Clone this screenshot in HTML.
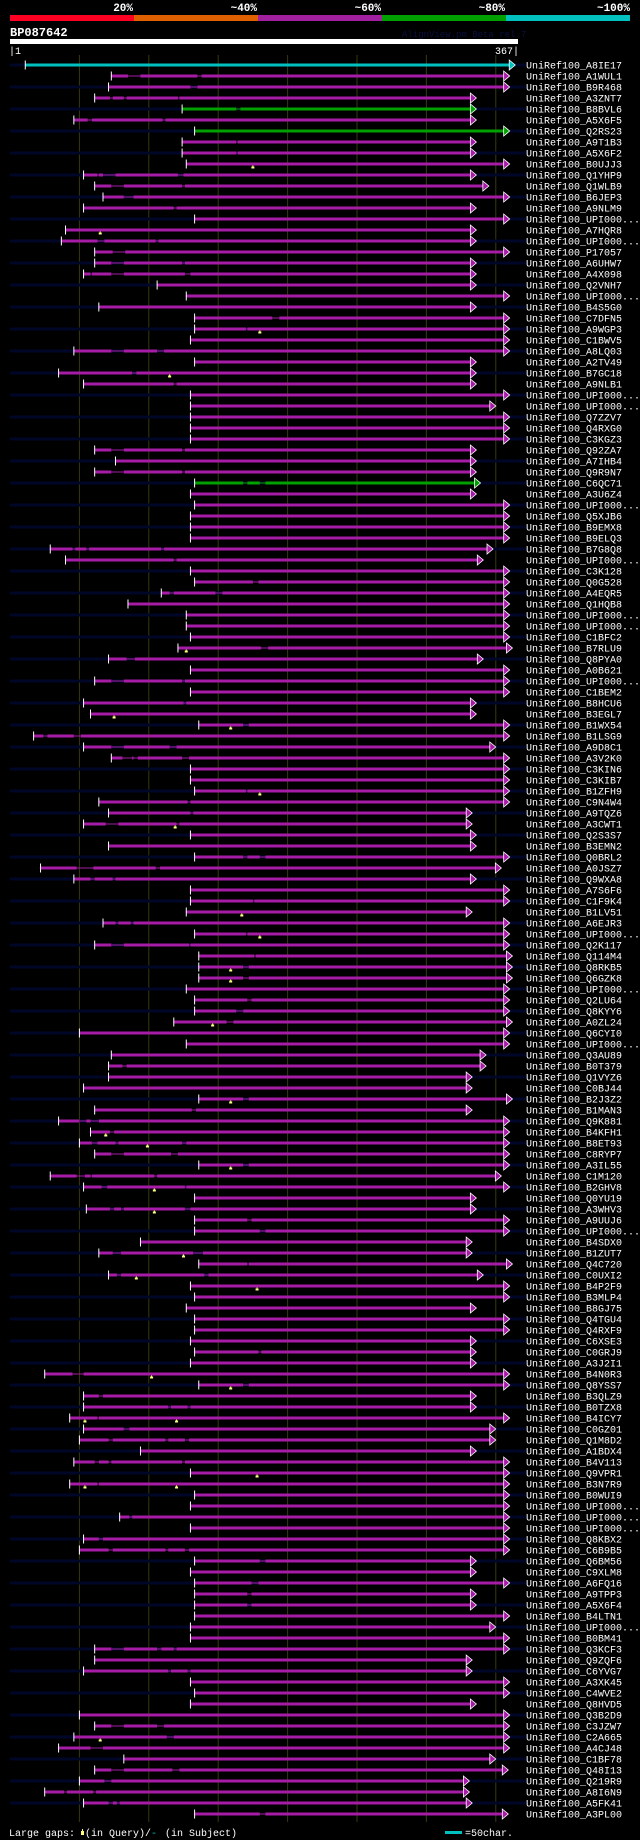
<!DOCTYPE html>
<html><head><meta charset="utf-8">
<style>
html,body{margin:0;padding:0;background:#000;}
body{width:640px;height:1840px;overflow:hidden;position:relative;font-family:"Liberation Mono",monospace;}
svg{position:absolute;left:0;top:0;}
</style></head>
<body>
<svg id="chart" width="640" height="1840" xmlns="http://www.w3.org/2000/svg" font-family="Liberation Mono, monospace">
  <g>
    <rect x="10" y="15" width="124" height="6" fill="#ff0022"/>
    <rect x="134" y="15" width="124" height="6" fill="#e06000"/>
    <rect x="258" y="15" width="124" height="6" fill="#a020a0"/>
    <rect x="382" y="15" width="124" height="6" fill="#00a000"/>
    <rect x="506" y="15" width="124" height="6" fill="#00c0c0"/>
    <g fill="#fff" font-size="11" font-weight="bold" text-anchor="end">
      <text x="133" y="11">20%</text>
      <text x="257" y="11">~40%</text>
      <text x="381" y="11">~60%</text>
      <text x="505" y="11">~80%</text>
      <text x="630" y="11">~100%</text>
    </g>
  </g>
  <text x="10" y="36" fill="#fff" font-size="12" font-weight="bold">BP087642</text>
  <text x="402" y="37" fill="#0a1040" font-size="9">AlignView.pm Beta rel.7</text>
  <rect x="10" y="39" width="508" height="5" fill="#fff"/>
  <text x="9" y="54" fill="#fff" font-size="10">|1</text>
  <text x="519" y="54" fill="#fff" font-size="10" text-anchor="end">367|</text>
  <g id="grid"></g>
  <g id="rows"></g>
  <g>
    <text x="9" y="1836" fill="#fff" font-size="10">Large gaps:</text>
    <rect x="81" y="1831" width="3" height="4" fill="#ffff80"/>
    <rect x="82" y="1829" width="1" height="2" fill="#ffff80"/>
    <text x="85" y="1836" fill="#fff" font-size="10">(in Query)/</text>
    <text x="151" y="1836" fill="#00c0c0" font-size="10">-</text>
    <text x="165" y="1836" fill="#fff" font-size="10">(in Subject)</text>
    <rect x="445" y="1831" width="17" height="3" fill="#00c0c0"/>
    <text x="465" y="1836" fill="#fff" font-size="10">=50char.</text>
  </g>
</svg>
<script>
const names=["A8IE17","A1WUL1","B9R468","A3ZNT7","B8BVL6","A5X6F5","Q2RS23","A9T1B3","A5X6F2","B0UJJ3","Q1YHP9","Q1WLB9","B6JEP3","A9NLM9","UPI000...","A7HQR8","UPI000...","P17057","A6UHW7","A4X098","Q2VNH7","UPI000...","B4S5G0","C7DFN5","A9WGP3","C1BWV5","A8LQ03","A2TV49","B7GC18","A9NLB1","UPI000...","UPI000...","Q7ZZV7","Q4RXG0","C3KGZ3","Q92ZA7","A7IHB4","Q9R9N7","C6QC71","A3U6Z4","UPI000...","Q5XJB6","B9EMX8","B9ELQ3","B7G8Q8","UPI000...","C3K128","Q0G528","A4EQR5","Q1HQB8","UPI000...","UPI000...","C1BFC2","B7RLU9","Q8PYA0","A0B621","UPI000...","C1BEM2","B8HCU6","B3EGL7","B1WX54","B1LSG9","A9D8C1","A3V2K0","C3KIN6","C3KIB7","B1ZFH9","C9N4W4","A9TQZ6","A3CWT1","Q2S3S7","B3EMN2","Q0BRL2","A0JSZ7","Q9WXA8","A7S6F6","C1F9K4","B1LV51","A6EJR3","UPI000...","Q2K117","Q114M4","Q8RKB5","Q6GZK8","UPI000...","Q2LU64","Q8KYY6","A0ZL24","Q6CYI0","UPI000...","Q3AU89","B0T379","Q1VYZ6","C0BJ44","B2J3Z2","B1MAN3","Q9K881","B4KFH1","B8ET93","C8RYP7","A3IL55","C1M120","B2GHV8","Q0YU19","A3WHV3","A9UUJ6","UPI000...","B4SDX0","B1ZUT7","Q4C720","C0UXI2","B4P2F9","B3MLP4","B8GJ75","Q4TGU4","Q4RXF9","C6XSE3","C0GRJ9","A3J2I1","B4N0R3","Q8YSS7","B3QLZ9","B0TZX8","B4ICY7","C0GZ01","Q1M8D2","A1BDX4","B4V113","Q9VPR1","B3N7R9","B0WUI9","UPI000...","UPI000...","UPI000...","Q8KBX2","C6B9B5","Q6BM56","C9XLM8","A6FQ16","A9TPP3","A5X6F4","B4LTN1","UPI000...","B0BM41","Q3KCF3","Q9ZQF6","C6YVG7","A3XK45","C4WVE2","Q8HVD5","Q3B2D9","C3JZW7","C2A665","A4CJ48","C1BF78","Q48I13","Q219R9","A8I6N9","A5FK41","A3PL00"];
const starts=[12,74,72,62,125,47,134,125,125,128,54,62,68,54,134,41,38,62,62,54,107,128,65,134,134,131,47,134,36,54,131,131,131,131,131,62,77,62,134,131,134,131,131,131,30,41,131,134,110,86,128,128,131,122,72,131,62,131,54,59,137,18,54,74,131,131,134,65,72,54,131,72,134,23,47,131,131,128,68,134,62,137,137,137,128,134,134,119,51,128,74,72,72,54,137,62,36,59,51,62,137,30,54,134,56,134,134,95,65,137,72,131,134,128,134,134,131,134,131,26,137,54,54,44,54,51,95,47,131,44,134,131,80,131,54,51,134,131,134,134,134,134,131,131,62,62,54,131,134,131,51,62,47,36,83,62,51,26,54,134];
const ends=[365,361,361,337,337,337,361,337,337,361,337,346,361,337,361,337,337,361,337,337,337,361,337,361,361,361,361,337,337,337,361,351,361,361,361,337,337,337,340,337,361,361,361,361,349,342,361,361,361,361,361,361,361,363,342,361,361,361,337,337,361,361,351,361,361,361,361,361,334,334,337,337,361,355,337,361,361,334,361,361,361,363,363,363,361,361,361,363,361,361,344,344,334,334,363,334,361,361,361,361,361,355,361,337,337,361,361,334,334,363,342,361,361,337,361,361,337,337,337,361,361,337,337,361,351,351,337,361,361,361,361,361,361,361,361,361,337,337,361,337,337,361,351,361,361,334,334,361,361,337,361,361,361,361,351,360,332,332,334,360];
// identity class per row: 0 = ~60% (purple), 1 = ~80% (green), 2 = ~100% (cyan)
const identity=[2,0,0,0,1,0,1,0,0,0,0,0,0,0,0,0,0,0,0,0,0,0,0,0,0,0,0,0,0,0,0,0,0,0,0,0,0,0,1].concat(new Array(121).fill(0));
const gaps={2:[[86,95],[136,139]],3:[[131,136]],4:[[73,75],[83,85],[122,123]],5:[[164,167]],6:[[57,60],[111,113]],8:[[164,165]],9:[[164,165]],11:[[64,65],[68,77],[122,126]],12:[[74,83],[125,127]],13:[[83,90]],14:[[119,121]],17:[[64,69],[106,108]],18:[[75,84]],19:[[74,83],[125,127]],20:[[59,60],[74,83],[127,131]],24:[[190,195]],25:[[171,172]],27:[[74,83],[107,112]],29:[[89,92]],30:[[119,121]],36:[[74,83],[125,127]],38:[[74,83],[125,127]],39:[[169,172],[181,185]],45:[[46,48],[56,58],[110,112]],46:[[119,121]],48:[[176,180]],49:[[116,119],[149,154]],54:[[182,187]],55:[[85,91]],57:[[74,83],[125,127]],59:[[126,128]],61:[[169,173]],62:[[25,28],[47,52]],63:[[74,83],[116,121]],64:[[82,89],[90,93],[125,130]],67:[[171,172]],68:[[129,131]],69:[[131,133]],70:[[70,79],[121,123]],73:[[169,172],[181,185]],74:[[49,61],[106,109]],75:[[59,62],[75,77]],77:[[176,177]],79:[[77,79],[88,90]],80:[[171,172]],81:[[74,83],[130,131]],82:[[177,178]],83:[[169,173]],84:[[169,173]],86:[[172,175]],87:[[164,169]],88:[[157,162]],92:[[82,85]],95:[[169,173]],96:[[132,135]],97:[[51,56],[59,65]],98:[[73,76]],99:[[60,64],[77,79],[125,128]],100:[[74,83],[117,122]],101:[[169,173]],102:[[49,55],[59,60],[105,107]],103:[[67,71],[127,128]],105:[[73,76],[81,83],[127,131]],106:[[172,175]],107:[[181,185]],109:[[75,81],[133,140]],110:[[172,173]],111:[[78,81],[141,144]],118:[[180,182]],120:[[46,54]],121:[[169,173]],122:[[65,68]],123:[[115,117],[129,131]],124:[[64,65]],125:[[83,87]],126:[[72,75],[113,115],[127,130]],128:[[62,65],[72,74],[125,127]],130:[[64,65]],133:[[87,89]],135:[[65,68]],136:[[72,75],[113,115],[127,130]],137:[[181,185]],139:[[175,180]],140:[[172,175]],141:[[172,175]],145:[[74,83],[107,110],[119,121]],147:[[115,117],[129,131]],152:[[74,83],[107,112]],153:[[114,119]],154:[[59,68]],156:[[74,83],[118,123]],157:[[69,74]],158:[[40,42],[61,63]],159:[[72,75],[78,80]],160:[[181,185]]};
const queryGaps={10:[176],16:[66],25:[181],29:[116],54:[128],60:[76],61:[160],67:[181],70:[120],78:[168],80:[181],83:[160],84:[160],88:[147],95:[160],98:[70],99:[100],101:[160],103:[105],105:[105],109:[126],111:[92],112:[179],120:[103],121:[160],124:[55,121],129:[179],130:[55,121],153:[66]};
const gridTicks=[51,101,151,201,251,301,351];

const QLEN=367, X0=10, X1=518, ROW0=65, PITCH=11;
const colors=["#a61ca6","#00a000","#00c0c0"];
function xs(p){return X0+(p-1)*(X1-X0)/(QLEN-1);}
function ys(i){return ROW0+i*PITCH;}
const NS="http://www.w3.org/2000/svg";
function mk(tag,attrs,parent){const e=document.createElementNS(NS,tag);for(const k in attrs)e.setAttribute(k,attrs[k]);parent.appendChild(e);return e;}

const grid=document.getElementById('grid');
gridTicks.forEach(t=>{
  const l=mk('line',{x1:xs(t),x2:xs(t),y1:55,y2:1822,stroke:'#38380e','stroke-width':1},grid);
  
  
});

const rows=document.getElementById('rows');
names.forEach((nm,i)=>{
  const y=ys(i);
  const g=mk('g',{},rows);
  
  
  if(i%2===0){
    const bg=mk('rect',{x:10,y:y-1.5,width:516,height:3,fill:'#000628'},g);
    
    
  }
  const c=colors[identity[i]];
  const sx=xs(starts[i]), tip=xs(ends[i]), ex=tip-6;
  const gl=gaps[i+1]||[];
  let cur=sx;
  const segs=[];
  gl.forEach(gp=>{segs.push([cur,xs(gp[0])]);cur=xs(gp[1]);});
  segs.push([cur,ex]);
  segs.forEach(s=>{
    const r=mk('rect',{x:s[0],y:y-1.5,width:Math.max(0,s[1]-s[0]),height:3,fill:c},g);
    
    
  });
  gl.forEach(gp=>{
    const r=mk('rect',{x:xs(gp[0]),y:y-0.5,width:xs(gp[1])-xs(gp[0]),height:1,fill:c},g);
    
    
  });
  const a=mk('polygon',{points:`${ex},${y-5} ${tip},${y} ${ex},${y+5}`,fill:c,stroke:'#fff','stroke-width':0.8},g);
  
  
  const t=mk('rect',{x:sx-0.5,y:y-4.5,width:1,height:9,fill:'#fff'},g);
  
  
  (queryGaps[i+1]||[]).forEach(p=>{
    const m=mk('rect',{x:xs(p)-1.5,y:y+2.5,width:3,height:2,fill:'#ffff80'},g);
    
    
    const st=mk('rect',{x:xs(p)-0.5,y:y+1.5,width:1,height:1,fill:'#ffff80'},g);
    
    
  });
  const tx=mk('text',{x:526,y:y+3.5,fill:'#fff','font-size':10},g);
  tx.textContent='UniRef100_'+nm;
  
  
});
</script>
</body></html>
